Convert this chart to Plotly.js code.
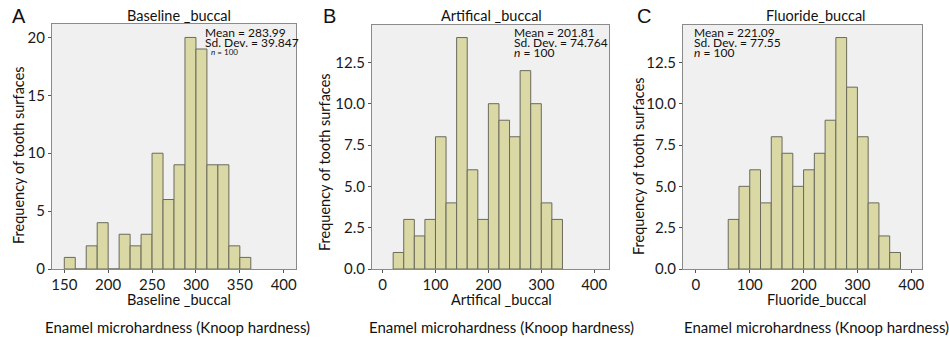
<!DOCTYPE html>
<html><head><meta charset="utf-8">
<script src="https://cdn.plot.ly/plotly-3.0.1.min.js"></script>
<style>body{margin:0;padding:0;background:#fff}#chart{width:949px;height:338px}</style>
</head><body><div id="chart"></div>
<script>
// Panel A: Baseline _buccal (bins of 12.5 starting at 150)
const baselineBinStart = 150, baselineBinWidth = 12.5;
const baselineCounts = [1,0,2,4,0,3,2,3,10,6,9,20,19,9,9,2,1];
// Panel B: Artifical _buccal (bins of 20 starting at 20)
const artificalBinStart = 20, artificalBinWidth = 20;
const artificalCounts = [1,3,2,3,8,4,14,6,3,10,9,8,12,10,4,3];
// Panel C: Fluoride_buccal (bins of 20 starting at 60)
const fluorideBinStart = 60, fluorideBinWidth = 20;
const fluorideCounts = [3,5,6,4,8,7,5,6,7,9,14,11,8,4,2,1];

const panelLetters = ["A","B","C"];
const panelTitles = ["Baseline _buccal","Artifical _buccal","Fluoride_buccal"];
const statsMean = ["283.99","201.81","221.09"];
const statsSD = ["39.847","74.764","77.55"];
const statsN = ["100","100","100"];
const yTitle = "Frequency of tooth surfaces";
const bottomLabel = "Enamel microhardness (Knoop hardness)";
const xTicksA = [150,200,250,300,350,400];
const xTicksBC = [0,100,200,300,400];
const yTicksA = [0,5,10,15,20];
const yTicksBC = [0,2.5,5,7.5,10,12.5];

function centers(start, w, counts){ return counts.map((c,i)=>start + w*(i+0.5)); }

const W=949,H=338;
const FONT = "Lato, 'Open Sans', sans-serif";
const barStyle = {color:'#dad9a5', line:{color:'#6a6a5c', width:1}};

const traces = [
  {type:'bar', x:centers(baselineBinStart,baselineBinWidth,baselineCounts), y:baselineCounts, width:baselineBinWidth, marker:barStyle, xaxis:'x', yaxis:'y', hoverinfo:'skip'},
  {type:'bar', x:centers(artificalBinStart,artificalBinWidth,artificalCounts), y:artificalCounts, width:artificalBinWidth, marker:barStyle, xaxis:'x2', yaxis:'y2', hoverinfo:'skip'},
  {type:'bar', x:centers(fluorideBinStart,fluorideBinWidth,fluorideCounts), y:fluorideCounts, width:fluorideBinWidth, marker:barStyle, xaxis:'x3', yaxis:'y3', hoverinfo:'skip'}
];

const px = v => v/W, py = v => 1 - v/H;
const baseAxis = {showline:true, mirror:true, linecolor:'#8a8a8a', linewidth:1, ticks:'outside', ticklen:3, tickcolor:'#555', showgrid:false, zeroline:false, tickfont:{family:FONT, size:15, color:'#1a1a1a'}, fixedrange:true};

const plots = [
  {l:52, r:296, t:24, b:269, xr:[136,414], yr:[0,21.16], xt:xTicksA, yt:yTicksA, yfmt:'d'},
  {l:372, r:609, t:25, b:269, xr:[-20,428], yr:[0,14.76], xt:xTicksBC, yt:yTicksBC, yfmt:'.1f'},
  {l:683, r:922, t:25, b:269, xr:[-24,420], yr:[0,14.76], xt:xTicksBC, yt:yTicksBC, yfmt:'.1f'}
];

const layout = {width:W, height:H, margin:{l:0,r:0,t:0,b:0}, paper_bgcolor:'#fff', plot_bgcolor:'#f0f0f0', showlegend:false, bargap:0, annotations:[]};
plots.forEach((p,i)=>{
  const sx = i===0?'':String(i+1);
  layout['xaxis'+sx] = Object.assign({}, baseAxis, {domain:[px(p.l),px(p.r)], range:p.xr, tickmode:'array', tickvals:p.xt, ticktext:p.xt.map(String), anchor:'y'+sx, ticklabelstandoff:-1});
  layout['yaxis'+sx] = Object.assign({}, baseAxis, {domain:[py(p.b),py(p.t)], range:p.yr, tickmode:'array', tickvals:p.yt, ticktext:p.yt.map(v=>p.yfmt==='d'?String(v):v.toFixed(1)), anchor:'x'+sx, ticklabelstandoff:0});
});

function ann(text,x,y,size,opts){
  layout.annotations.push(Object.assign({text:text, x:px(x), y:py(y), xref:'paper', yref:'paper', showarrow:false, xanchor:'center', yanchor:'middle', font:{family:FONT, size:size, color:'#111'}}, opts||{}));
}
const letterX=[19,329.5,644];
const titleX=[179,491.5,816];
const yTitleX=[18,324,638];
const yTitleY=[155,162,166];
const xTitleX=[179,501,817];
const bottomX=[177,501,816];
const statsX=[203,512,692];
for(let i=0;i<3;i++){
  ann(panelLetters[i], letterX[i], 16, 20, {font:{family:"'Liberation Sans', Arial, sans-serif", size:20, color:'#111'}});
  ann(panelTitles[i], titleX[i], 15, 14.5);
  ann(yTitle, yTitleX[i], yTitleY[i], 14.5, {textangle:-90});
  ann(panelTitles[i], xTitleX[i], 299.5, 14.5);
  ann(bottomLabel, bottomX[i], 327, 15);
  ann('Mean = '+statsMean[i], statsX[i], 32.5, 12, {xanchor:'left'});
  ann('Sd. Dev. = '+statsSD[i], statsX[i], 42.5, 12, {xanchor:'left'});
  const nSize = i===0?8:12;
  ann('<i>n</i> = '+statsN[i], statsX[i]+(i===0?6:0), 52, nSize, {xanchor:'left'});
}

Plotly.newPlot('chart', traces, layout, {staticPlot:true, displayModeBar:false});
</script></body></html>
